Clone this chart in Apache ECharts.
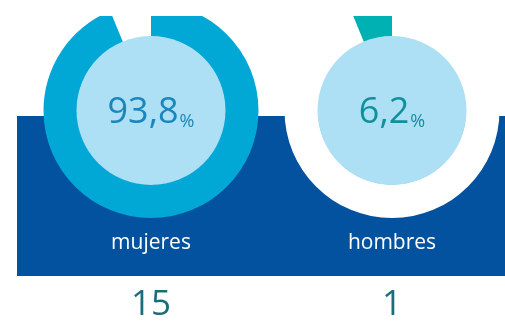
<!DOCTYPE html>
<html>
<head>
<meta charset="utf-8">
<script src="https://cdn.jsdelivr.net/npm/echarts@6/dist/echarts.min.js"></script>
<style>
  html, body { margin: 0; padding: 0; background: #ffffff; }
  #chart { width: 505px; height: 330px; }
</style>
</head>
<body>
<div id="chart"></div>
<script>
// Share of staff by gender, with head counts
const categories = ['mujeres', 'hombres'];
const percents = [93.8, 6.2];
const counts = [15, 1];

const centers = [[151, 110.5], [392, 110.5]];
const ringColors = [
  ['#01a8d6', 'rgba(0,0,0,0)'],   // mujeres donut: women's share highlighted
  ['#ffffff', '#00b1b4']          // hombres donut: men's share highlighted
];
const pctColors = ['#1a86be', '#10909c'];
const FONT = '"Open Sans", "Noto Sans", sans-serif';

const fmt = v => v.toFixed(1).replace('.', ',');

const series = [];
categories.forEach((cat, i) => {
  // ring: both shares, one highlighted
  series.push({
    type: 'pie',
    center: centers[i],
    radius: [74, 107.5],
    startAngle: 90,
    clockwise: true,
    silent: true,
    label: { show: false },
    labelLine: { show: false },
    itemStyle: { borderWidth: 0 },
    emphasis: { disabled: true },
    data: categories.map((c, j) => ({
      name: c,
      value: percents[j],
      itemStyle: { color: ringColors[i][j] }
    })),
    z: 2
  });
  // inner disc carrying the percentage
  series.push({
    type: 'pie',
    center: centers[i],
    radius: [0, 74.5],
    silent: true,
    itemStyle: { color: '#ade0f4', borderWidth: 0 },
    emphasis: { disabled: true },
    labelLine: { show: false },
    label: {
      show: true,
      position: 'center',
      formatter: () => '{n|' + fmt(percents[i]) + '}{p|%}',
      rich: {
        n: { fontFamily: FONT, fontSize: 36, color: pctColors[i], lineHeight: 40, verticalAlign: 'bottom' },
        p: { fontFamily: FONT, fontSize: 18, color: pctColors[i], lineHeight: 40, verticalAlign: 'bottom', padding: [0, 0, 0, 1] }
      }
    },
    data: [{ name: cat, value: percents[i] }],
    z: 3
  });
});

const graphic = [
  // blue band behind the donuts
  { type: 'rect', z: 0, shape: { x: 17, y: 116, width: 488, height: 160 }, style: { fill: '#0352a0' } },
  // top edge trim
  { type: 'rect', z: 100, shape: { x: 0, y: 0, width: 505, height: 16 }, style: { fill: '#ffffff' } }
];
categories.forEach((cat, i) => {
  graphic.push({
    type: 'text', z: 10, x: centers[i][0], y: 243,
    style: { text: cat, fill: '#ffffff', font: '21px ' + FONT, align: 'center', verticalAlign: 'middle' }
  });
  graphic.push({
    type: 'text', z: 10, x: centers[i][0], y: 305,
    style: { text: String(counts[i]), fill: '#1a6d7b', font: '35px ' + FONT, align: 'center', verticalAlign: 'middle' }
  });
});

const chart = echarts.init(document.getElementById('chart'), null, { renderer: 'canvas' });
chart.setOption({
  animation: false,
  backgroundColor: '#ffffff',
  series: series,
  graphic: graphic
});
</script>
</body>
</html>
